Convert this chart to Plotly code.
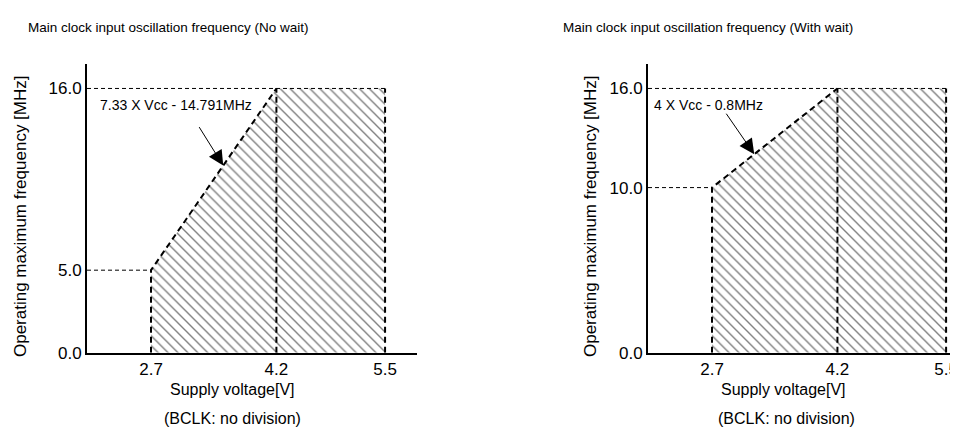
import plotly.graph_objects as go

# supply voltage break points [V] and max frequency at each point [MHz]
volt = [2.7, 4.2, 5.5]
freq_no_wait = [5.0, 16.0, 16.0]
freq_with_wait = [10.0, 16.0, 16.0]

volt_ticks = ["2.7", "4.2", "5.5"]
freq_ticks_no_wait = [0.0, 5.0, 16.0]
freq_ticks_with_wait = [0.0, 10.0, 16.0]

titles = ["Main clock input oscillation frequency (No wait)",
          "Main clock input oscillation frequency (With wait)"]
formulas = ["7.33 X Vcc - 14.791MHz", "4 X Vcc - 0.8MHz"]

W, H = 958, 430
FONT = "Liberation Sans, Arial, sans-serif"
X_LO = 1.934


def px(x):
    return x / W


def py(y):
    return 1 - y / H


def panel_traces(freq, xa, ya):
    """Hatched operating area plus its dashed outlines"""
    traces = []
    # hatched area
    traces.append(go.Scatter(
        x=volt + [volt[-1], volt[0]], y=freq + [0, 0],
        mode="lines", fill="toself",
        fillpattern=dict(shape="\\", size=7, solidity=0.2, fgcolor="black", bgcolor="white"),
        fillcolor="white",
        line=dict(width=0, color="rgba(0,0,0,0)"),
        xaxis=xa, yaxis=ya, hoverinfo="skip", showlegend=False))
    # thick dashed outline: left edge, slope, and the two verticals
    traces.append(go.Scatter(
        x=[volt[0], volt[0], volt[1], None, volt[1], volt[1], None, volt[2], volt[2]],
        y=[0, freq[0], freq[1], None, 0, freq[1], None, 0, freq[2]],
        mode="lines", line=dict(color="black", width=2, dash="6px,4px"),
        xaxis=xa, yaxis=ya, hoverinfo="skip", showlegend=False))
    # thin dashed guide lines from the y axis
    traces.append(go.Scatter(
        x=[X_LO, volt[2], None, X_LO, volt[0]],
        y=[freq[2], freq[2], None, freq[0], freq[0]],
        mode="lines", line=dict(color="black", width=1, dash="4px,3px"),
        xaxis=xa, yaxis=ya, hoverinfo="skip", showlegend=False))
    return traces


fig = go.Figure()
for t in panel_traces(freq_no_wait, "x", "y") + panel_traces(freq_with_wait, "x2", "y2"):
    fig.add_trace(t)

ydom = [py(353), py(57)]
axis_common = dict(showgrid=False, zeroline=False, showline=True, linecolor="black",
                   linewidth=2, ticks="", tickfont=dict(size=17, color="black", family=FONT))

fig.update_layout(
    width=W, height=H,
    margin=dict(l=0, r=0, t=0, b=0),
    paper_bgcolor="white", plot_bgcolor="white",
    font=dict(family=FONT, color="black"),
    xaxis=dict(domain=[px(79), px(409)], range=[X_LO, 5.882], anchor="y",
               tickvals=volt, ticktext=volt_ticks, **axis_common),
    yaxis=dict(domain=ydom, range=[0, 17.5], anchor="x",
               tickvals=freq_ticks_no_wait, ticktext=[f"{v:.1f}" for v in freq_ticks_no_wait],
               **axis_common),
    xaxis2=dict(domain=[px(640), 1.0], range=[X_LO, 5.738], anchor="y2",
                tickvals=volt, ticktext=volt_ticks, **axis_common),
    yaxis2=dict(domain=ydom, range=[0, 17.5], anchor="x2",
                tickvals=freq_ticks_with_wait, ticktext=[f"{v:.1f}" for v in freq_ticks_with_wait],
                **axis_common),
)

ann = []
# panel titles
for x0, t in zip([18, 553], titles):
    ann.append(dict(text=t, x=px(x0), y=py(20), xref="paper", yref="paper",
                    xanchor="left", yanchor="middle", showarrow=False, font=dict(size=13.5)))
# y axis titles
for x0 in [12, 582]:
    ann.append(dict(text="Operating maximum frequency [MHz]", x=px(x0), y=py(213),
                    xref="paper", yref="paper", textangle=-90, xanchor="center",
                    yanchor="middle", showarrow=False, font=dict(size=17)))
# x axis titles and footnotes
for x0, x1 in [(224, 224), (775, 778)]:
    ann.append(dict(text="Supply voltage[V]", x=px(x0), y=py(391), xref="paper", yref="paper",
                    xanchor="center", yanchor="middle", showarrow=False, font=dict(size=16)))
    ann.append(dict(text="(BCLK: no division)", x=px(x1), y=py(420), xref="paper", yref="paper",
                    xanchor="center", yanchor="middle", showarrow=False, font=dict(size=16)))

# formula labels and arrows
ann.append(dict(text=formulas[0], x=3.0, y=15.02, xref="x", yref="y", showarrow=False,
                font=dict(size=14)))
ann.append(dict(text="", x=3.564, y=11.33, xref="x", yref="y", ax=-25, ay=-40,
                showarrow=True, arrowhead=2, arrowsize=3, arrowwidth=1, arrowcolor="black"))
ann.append(dict(text=formulas[1], x=2.652, y=15.02, xref="x2", yref="y2", showarrow=False,
                font=dict(size=14)))
ann.append(dict(text="", x=3.205, y=12.02, xref="x2", yref="y2", ax=-29, ay=-42,
                showarrow=True, arrowhead=2, arrowsize=3, arrowwidth=1, arrowcolor="black"))

fig.update_layout(annotations=ann)

fig.write_html("out.html")
